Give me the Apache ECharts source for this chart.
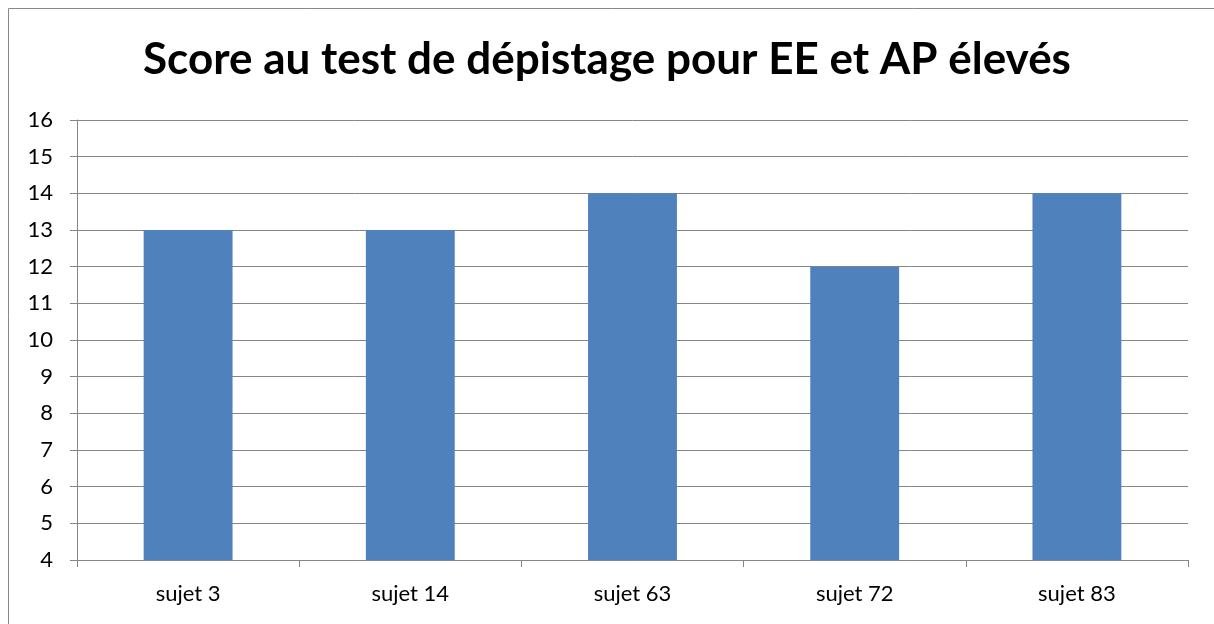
<!DOCTYPE html>
<html>
<head>
<meta charset="utf-8">
<script src="https://cdn.jsdelivr.net/npm/echarts@6/dist/echarts.min.js"></script>
<style>
  html, body { margin: 0; padding: 0; background: #fff; }
  #chart { width: 1214px; height: 624px; }
</style>
</head>
<body>
<div id="chart"></div>
<script>
// données
const categories = ['sujet 3', 'sujet 14', 'sujet 63', 'sujet 72', 'sujet 83']
const scores = [13, 13, 14, 12, 14]
const yMin = 4
const yMax = 16

const chart = echarts.init(document.getElementById('chart'))

chart.setOption({
  animation: false,
  textStyle: { fontFamily: 'Lato' },
  graphic: [{
    type: 'rect',
    shape: { x: 8.5, y: 8.5, width: 1220, height: 640 },
    style: { fill: 'none', stroke: '#888', lineWidth: 1 }
  }],
  title: {
    text: 'Score au test de dépistage pour EE et AP élevés',
    left: 'center',
    top: 33,
    textStyle: {
      fontFamily: 'Lato',
      fontWeight: 'bold',
      fontSize: 44,
      color: '#000'
    }
  },
  grid: {
    left: 77,
    right: 26,
    top: 120,
    bottom: 64
  },
  xAxis: {
    type: 'category',
    data: categories,
    axisLine: { lineStyle: { color: '#868686', width: 1 } },
    axisTick: { show: true, length: 7, lineStyle: { color: '#868686' } },
    axisLabel: { color: '#000', fontSize: 22, margin: 23 }
  },
  yAxis: {
    type: 'value',
    min: yMin,
    max: yMax,
    interval: 1,
    axisLine: { show: true, lineStyle: { color: '#868686', width: 1 } },
    axisTick: { show: true, length: 7, lineStyle: { color: '#868686' } },
    axisLabel: { color: '#000', fontSize: 22, margin: 24 },
    splitLine: { lineStyle: { color: '#868686', width: 1 } }
  },
  series: [{
    type: 'bar',
    data: scores,
    barWidth: '40%',
    itemStyle: { color: '#4F81BD' }
  }]
})
</script>
</body>
</html>
